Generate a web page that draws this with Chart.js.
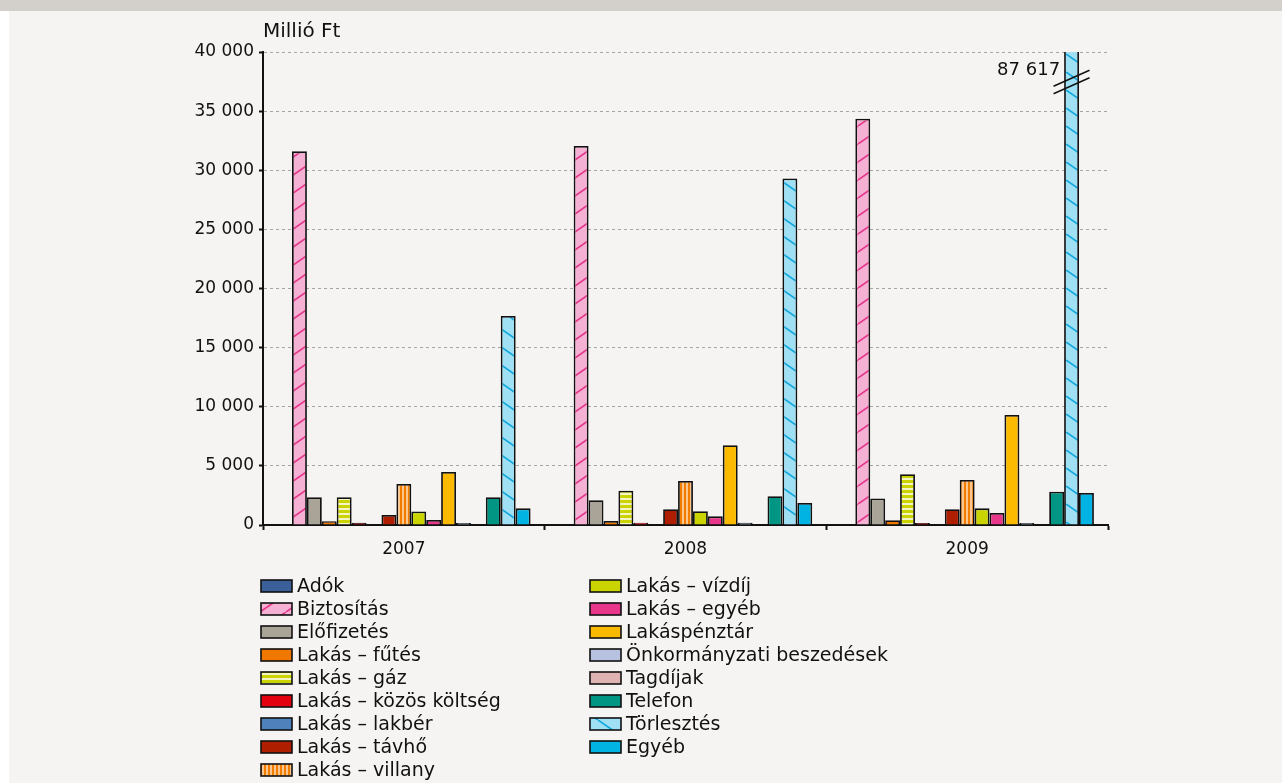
<!DOCTYPE html>
<html>
<head>
<meta charset="utf-8">
<script src="https://cdn.jsdelivr.net/npm/chart.js@4.4.1/dist/chart.umd.min.js"></script>
<style>
  html, body { margin: 0; padding: 0; background: #f5f4f2; }
  body { width: 1282px; height: 783px; position: relative; overflow: hidden; }
  #band { position: absolute; left: 0; top: 0; width: 1282px; height: 11px; background: #d3cfca; }
  #strip { position: absolute; left: 0; top: 11px; width: 9px; height: 772px; background: #fff; }
  #chart { position: absolute; left: 0; top: 0; }
</style>
</head>
<body>
<canvas id="chart" width="1282" height="783"></canvas>
<div id="band"></div>
<div id="strip"></div>
<script>
// categories
const years = ['2007', '2008', '2009'];

// series (Millió Ft)
const adok          = [0, 0, 0];
const biztositas    = [31600, 32050, 34350];
const elofizetes    = [2350, 2090, 2250];
const futes         = [320, 340, 400];
const gaz           = [2350, 2900, 4290];
const kozosKoltseg  = [180, 200, 170];
const lakber        = [0, 0, 0];
const tavho         = [850, 1330, 1330];
const villany       = [3470, 3720, 3800];
const vizdij        = [1150, 1160, 1410];
const lakasEgyeb    = [420, 730, 1010];
const lakaspenztar  = [4480, 6740, 9300];
const onkormanyzati = [170, 190, 170];
const tagdijak      = [0, 0, 0];
const telefon       = [2350, 2430, 2820];
const torlesztes    = [17670, 29300, 87617];
const egyeb         = [1410, 1860, 2700];

// y axis
const yMin = 0;
const yMax = 40000;
const yStep = 5000;
const yUnit = 'Millió Ft';

const FONT = '"DejaVu Sans", sans-serif';
const INK = '#111';
const fmt = v => String(Math.round(v)).replace(/\B(?=(\d{3})+(?!\d))/g, ' ');

// fill patterns
function diagonal(bg, fg, rising) {
  const w = 26, h = 18;
  const c = document.createElement('canvas');
  c.width = w; c.height = h;
  const g = c.getContext('2d');
  g.fillStyle = bg;
  g.fillRect(0, 0, w, h);
  g.strokeStyle = fg;
  g.lineWidth = 1.7;
  g.beginPath();
  for (let k = -1; k <= 1; k++) {
    if (rising) {
      g.moveTo(k * w, h); g.lineTo(k * w + w, 0);
    } else {
      g.moveTo(k * w, 0); g.lineTo(k * w + w, h);
    }
  }
  g.stroke();
  return g.createPattern(c, 'repeat');
}
function stripes(bg, fg, vertical, dark, light) {
  const p = dark + light;
  const c = document.createElement('canvas');
  c.width = vertical ? p : 1;
  c.height = vertical ? 1 : p;
  const g = c.getContext('2d');
  g.fillStyle = bg;
  g.fillRect(0, 0, c.width, c.height);
  g.fillStyle = fg;
  if (vertical) g.fillRect(dark, 0, light, 1);
  else g.fillRect(0, dark, 1, light);
  return g.createPattern(c, 'repeat');
}

const series = [
  { label: 'Adók', data: adok, color: '#3b5f99' },
  { label: 'Biztosítás', data: biztositas, color: diagonal('#f5b1d4', '#e5388b', true) },
  { label: 'Előfizetés', data: elofizetes, color: '#aaa397' },
  { label: 'Lakás – fűtés', data: futes, color: '#f07800' },
  { label: 'Lakás – gáz', data: gaz, color: stripes('#cbd400', '#f3f5c4', false, 3, 2) },
  { label: 'Lakás – közös költség', data: kozosKoltseg, color: '#e3000f' },
  { label: 'Lakás – lakbér', data: lakber, color: '#4f81bd' },
  { label: 'Lakás – távhő', data: tavho, color: '#b01e00' },
  { label: 'Lakás – villany', data: villany, color: stripes('#f07c00', '#fbc78e', true, 2, 2) },
  { label: 'Lakás – vízdíj', data: vizdij, color: '#c9d400' },
  { label: 'Lakás – egyéb', data: lakasEgyeb, color: '#e8368a' },
  { label: 'Lakáspénztár', data: lakaspenztar, color: '#fbba00' },
  { label: 'Önkormányzati beszedések', data: onkormanyzati, color: '#b6c2e0' },
  { label: 'Tagdíjak', data: tagdijak, color: '#e0b3b3' },
  { label: 'Telefon', data: telefon, color: '#009683' },
  { label: 'Törlesztés', data: torlesztes, color: diagonal('#9fe0f5', '#12a8dd', false) },
  { label: 'Egyéb', data: egyeb, color: '#00b3e3' }
];

const datasets = series.map(s => ({
  label: s.label,
  data: s.data,
  backgroundColor: s.color,
  borderColor: INK,
  borderWidth: 1.8,
  categoryPercentage: 0.9,
  barPercentage: 1.0
}));

// unit label, axis break marker, two-column legend
const extras = {
  id: 'extras',
  afterDraw(chart) {
    const { ctx, chartArea } = chart;
    ctx.save();
    ctx.fillStyle = INK;
    ctx.font = '20px ' + FONT;
    ctx.textAlign = 'left';
    ctx.textBaseline = 'middle';
    ctx.fillText(yUnit, chartArea.left, chartArea.top - 20);

    // break marker on bars taller than the axis
    ctx.font = '18px ' + FONT;
    datasets.forEach((ds, di) => {
      const meta = chart.getDatasetMeta(di);
      ds.data.forEach((v, i) => {
        if (v <= yMax) return;
        const el = meta.data[i];
        const cy = chartArea.top + 30;
        ctx.strokeStyle = INK;
        ctx.lineWidth = 1.4;
        [-3.75, 3.75].forEach(off => {
          ctx.beginPath();
          ctx.moveTo(el.x - 18, cy + 8 + off);
          ctx.lineTo(el.x + 18, cy - 8 + off);
          ctx.stroke();
        });
        ctx.textAlign = 'right';
        ctx.fillText(fmt(v), el.x - el.width / 2 - 4, chartArea.top + 18);
      });
    });

    // legend
    ctx.font = '19px ' + FONT;
    ctx.textAlign = 'left';
    datasets.forEach((ds, i) => {
      const col = i < 9 ? 0 : 1;
      const row = i < 9 ? i : i - 9;
      const bx = chartArea.left - 2 + col * 329;
      const by = chartArea.bottom + 55 + row * 23;
      ctx.fillStyle = ds.backgroundColor;
      ctx.fillRect(bx, by, 31, 12);
      ctx.strokeStyle = INK;
      ctx.lineWidth = 1.6;
      ctx.strokeRect(bx, by, 31, 12);
      ctx.fillStyle = INK;
      ctx.fillText(ds.label, bx + 36, by + 7);
    });
    ctx.restore();
  }
};

new Chart(document.getElementById('chart'), {
  type: 'bar',
  data: { labels: years, datasets: datasets },
  options: {
    responsive: false,
    animation: false,
    layout: { padding: { top: 52, right: 174, bottom: 0, left: 0 } },
    plugins: { legend: { display: false }, tooltip: { enabled: false } },
    scales: {
      x: {
        afterFit: s => { s.height = 258; },
        grid: { display: true, drawOnChartArea: false, drawTicks: true, tickLength: 5, tickColor: INK, tickWidth: 2, offset: true },
        border: { display: true, color: INK, width: 2 },
        ticks: { color: INK, font: { family: FONT, size: 17 }, padding: 9 }
      },
      y: {
        min: yMin,
        max: yMax,
        afterFit: s => { s.width = 263; },
        grid: { color: '#a5a5a5', lineWidth: 1, drawTicks: true, tickLength: 4, tickColor: INK, tickWidth: 2, tickBorderDash: [] },
        border: { display: true, color: INK, width: 2, dash: [3, 3] },
        ticks: { stepSize: yStep, color: INK, font: { family: FONT, size: 17 }, padding: 5, callback: v => fmt(v) }
      }
    }
  },
  plugins: [extras]
});
</script>
</body>
</html>
